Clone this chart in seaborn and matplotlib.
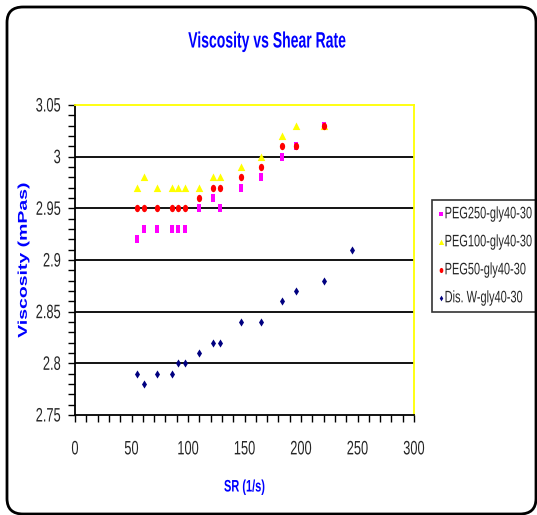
import matplotlib
matplotlib.use("Agg")
import matplotlib.pyplot as plt
import seaborn as sns
import pandas as pd
import numpy as np
from matplotlib.patches import FancyBboxPatch
from matplotlib.ticker import MultipleLocator
from matplotlib.patheffects import AbstractPathEffect
from matplotlib.transforms import Affine2D
from matplotlib.path import Path

# ---- data ----
sr_peg = [55, 61, 73, 85.5, 91.5, 97.5, 110, 122, 128, 147, 165, 183, 196, 220]
peg250 = [2.92, 2.93, 2.93, 2.93, 2.93, 2.93, 2.95, 2.96, 2.95, 2.97, 2.98, 3.00, 3.01, 3.03]
peg100 = [2.97, 2.98, 2.97, 2.97, 2.97, 2.97, 2.97, 2.98, 2.98, 2.99, 3.00, 3.02, 3.03, 3.03]
peg50 = [2.95, 2.95, 2.95, 2.95, 2.95, 2.95, 2.96, 2.97, 2.97, 2.98, 2.99, 3.01, 3.01, 3.03]
sr_dis = [55, 61, 73, 85.5, 91.5, 97.5, 110, 122, 128, 147, 165, 183, 196, 220, 245]
dis_w = [2.79, 2.78, 2.79, 2.79, 2.80, 2.80, 2.81, 2.82, 2.82, 2.84, 2.84, 2.86, 2.87, 2.88, 2.91]
series_names = ["PEG250-gly40-30", "PEG100-gly40-30", "PEG50-gly40-30", "Dis. W-gly40-30"]
x_ticks = [0, 50, 100, 150, 200, 250, 300]
y_ticks = [2.75, 2.8, 2.85, 2.9, 2.95, 3.0, 3.05]
y_tick_labels = ["2.75", "2.8", "2.85", "2.9", "2.95", "3", "3.05"]

frames = []
for name, xs, ys in zip(series_names, [sr_peg, sr_peg, sr_peg, sr_dis],
                        [peg250, peg100, peg50, dis_w]):
    frames.append(pd.DataFrame({"SR": xs, "Viscosity": ys, "Series": name}))
df = pd.concat(frames, ignore_index=True)


class Squeeze(AbstractPathEffect):
    """Draw text glyphs compressed along one local axis (narrow look)."""
    def __init__(self, sx=1.0, sy=1.0, anchor="center"):
        super().__init__()
        self.sx, self.sy, self.anchor = sx, sy, anchor

    def draw_path(self, renderer, gc, tpath, affine, rgbFace=None):
        ext = tpath.get_extents()
        if self.anchor == "right":
            cx = ext.x1
        elif self.anchor == "left":
            cx = ext.x0
        else:
            cx = 0.5 * (ext.x0 + ext.x1)
        cy = 0.5 * (ext.y0 + ext.y1)
        t = (Affine2D().translate(-cx, -cy).scale(self.sx, self.sy)
             .translate(cx, cy) + affine)
        renderer.draw_path(gc, tpath, t, rgbFace)


SQ = 0.66

sns.set_style("white")
plt.rcParams["font.family"] = ["Liberation Sans", "DejaVu Sans"]

W, H = 537, 515
fig = plt.figure(figsize=(W / 100, H / 100), dpi=100)
ax = fig.add_axes([75 / W, 1 - 415 / H, (414 - 75) / W, (415 - 105) / H])

# narrow (horizontally compressed) marker shapes
sq_m = Path([(-0.7, -1), (0.7, -1), (0.7, 1), (-0.7, 1), (-0.7, -1)],
            [Path.MOVETO, Path.LINETO, Path.LINETO, Path.LINETO, Path.CLOSEPOLY])
tri_m = Path([(-0.8, -0.75), (0.8, -0.75), (0, 0.85), (-0.8, -0.75)],
             [Path.MOVETO, Path.LINETO, Path.LINETO, Path.CLOSEPOLY])
circ = Path.unit_circle()
circ_m = Path(circ.vertices * np.array([0.72, 1.0]), circ.codes)
dia_m = Path([(0, 1), (0.62, 0), (0, -1), (-0.62, 0), (0, 1)],
             [Path.MOVETO, Path.LINETO, Path.LINETO, Path.LINETO, Path.CLOSEPOLY])

palette = {series_names[0]: "#FF00FF", series_names[1]: "#FFFF00",
           series_names[2]: "#FF0000", series_names[3]: "#000080"}
markers = {series_names[0]: sq_m, series_names[1]: tri_m,
           series_names[2]: circ_m, series_names[3]: dia_m}
sizes = {series_names[0]: 26, series_names[1]: 34, series_names[2]: 28, series_names[3]: 34}

for name in series_names:
    sub = df[df["Series"] == name]
    sns.scatterplot(data=sub, x="SR", y="Viscosity", ax=ax, color=palette[name],
                    marker=markers[name], s=sizes[name], linewidth=0,
                    label=name, zorder=3)

ax.set_xlim(0, 300)
ax.set_ylim(2.75, 3.05)
ax.set_xticks(x_ticks)
ax.set_yticks(y_ticks)
ax.set_xticklabels([str(v) for v in x_ticks], fontsize=14)
ax.set_yticklabels(y_tick_labels, fontsize=14)
ax.xaxis.set_minor_locator(MultipleLocator(10))
ax.yaxis.set_minor_locator(MultipleLocator(0.01))
ax.tick_params(axis="both", which="both", direction="out", length=5, width=1,
               color="black", bottom=True, left=True)
ax.tick_params(axis="x", pad=14)
ax.tick_params(axis="y", pad=5)
for lab in ax.get_xticklabels():
    lab.set_path_effects([Squeeze(sx=SQ, anchor="center")])
for lab in ax.get_yticklabels():
    lab.set_path_effects([Squeeze(sx=SQ, anchor="right")])

for yv in y_ticks[1:-1]:
    ax.axhline(yv, color="black", lw=1.3, zorder=1)

for side in ["left", "bottom"]:
    ax.spines[side].set_color("black")
    ax.spines[side].set_linewidth(1.3)
for side in ["top", "right"]:
    ax.spines[side].set_color("#FFFF00")
    ax.spines[side].set_linewidth(1.3)

ax.set_xlabel("SR (1/s)", color="#0000FF", fontsize=12, fontweight="bold")
ax.set_ylabel("Viscosity (mPas)", color="#0000FF", fontsize=14, fontweight="bold")
ax.xaxis.set_label_coords(0.5, -(487 - 415) / 310, transform=ax.transAxes)
ax.xaxis.label.set_va("center")
ax.yaxis.set_label_coords(-(75 - 24) / 339, 0.5, transform=ax.transAxes)
ax.yaxis.label.set_va("center")
ax.xaxis.label.set_path_effects([Squeeze(sx=SQ, anchor="center")])
ax.yaxis.label.set_path_effects([Squeeze(sy=SQ, anchor="center")])

title = fig.text(267 / W, 1 - 42 / H, "Viscosity vs Shear Rate", color="#0000FF",
                 fontsize=16, fontweight="bold", ha="center", va="center")
title.set_path_effects([Squeeze(sx=0.63, anchor="center")])

handles, labels = ax.get_legend_handles_labels()
leg = ax.legend(handles, labels, loc="upper left", bbox_to_anchor=(432 / W, 1 - 200 / H),
                bbox_transform=fig.transFigure, frameon=True, fancybox=False,
                shadow=False, fontsize=12, handletextpad=0.05, handlelength=0.3,
                borderpad=0.38, labelspacing=0.78, borderaxespad=0, markerscale=0.7)
leg.get_frame().set_edgecolor("black")
leg.get_frame().set_linewidth(1.2)
for t in leg.get_texts():
    t.set_path_effects([Squeeze(sx=0.66, anchor="left")])

border = FancyBboxPatch((7 / W, 1 - 514 / H), (536 - 7) / W, (514 - 7) / H,
                        boxstyle="round,pad=0,rounding_size=0.03",
                        transform=fig.transFigure, fill=False, edgecolor="black",
                        linewidth=2, clip_on=False)
fig.patches.append(border)

fig.savefig("out.png", dpi=100)
